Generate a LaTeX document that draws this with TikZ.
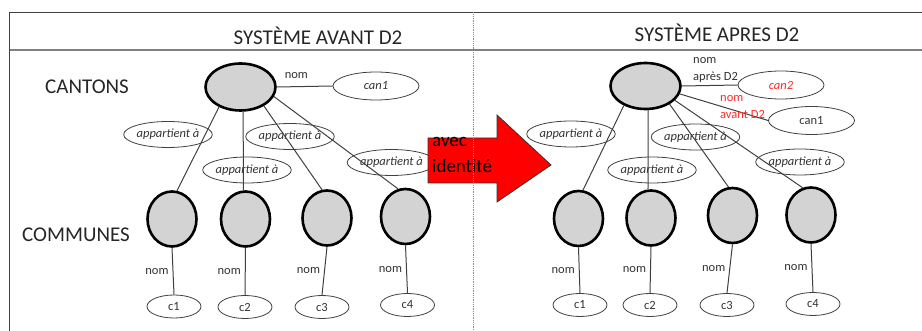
\documentclass[tikz,border=0pt]{standalone}
\usepackage{fontspec}
\setmainfont{Carlito}
\usetikzlibrary{shapes.geometric}
\definecolor{nodegray}{HTML}{D3D3D3}
\definecolor{txt}{HTML}{333333}
\definecolor{redtxt}{HTML}{FF2A2A}
\begin{document}
\begin{tikzpicture}[x=1pt,y=-1pt,
  entity/.style={ellipse, draw=black, line width=2.6pt, fill=nodegray, inner sep=0pt},
  cant/.style={entity, minimum width=70pt, minimum height=47pt},
  comm/.style={entity, minimum width=49pt, minimum height=55pt},
  rel/.style={ellipse, draw=black!75, line width=0.8pt, inner sep=0pt, minimum width=86pt, minimum height=26pt, font=\fontsize{12.5}{15}\selectfont\itshape, text=txt},
  val/.style={ellipse, draw=black!75, line width=0.8pt, inner sep=0pt, minimum width=86pt, minimum height=28pt, font=\fontsize{12.5}{15}\selectfont, text=txt},
  cval/.style={val, minimum width=54pt, minimum height=23pt},
  link/.style={draw=black!75, line width=1pt},
  lbl/.style={font=\fontsize{12.5}{17}\selectfont, text=txt, inner sep=0pt},
  heading/.style={font=\fontsize{21}{25}\selectfont, text=black!85, inner sep=0pt}]

\useasboundingbox (0,0) rectangle (922,331);

% frame
\draw[black!75, line width=1.2pt] (9.5,331) -- (9.5,12.5) -- (922,12.5);
\draw[black!50, line width=2pt] (9.5,50.5) -- (922,50.5);

% headings
\node[heading] (titleL) at (318,36) {SYSTÈME AVANT D2};
\node[heading] (titleR) at (717,32.5) {SYSTÈME APRES D2};
\node[heading, anchor=west] (cantons) at (45,87) {CANTONS};
\node[heading, anchor=west] (communes) at (22,234.5) {COMMUNES};

% ---------- left system ----------
\node[cant] (cantL) at (240.5,87) {};
\node[comm] (comL1) at (172,219) {};
\node[comm] (comL2) at (245.5,219) {};
\node[comm] (comL3) at (327,218) {};
\node[comm] (comL4) at (405.5,216.5) {};

\node[rel] (relL1) at (168,134.5) {appartient à};
\node[rel] (relL2) at (247,170) {appartient à};
\node[rel] (relL3) at (290,136.5) {appartient à};
\node[rel] (relL4) at (391.5,162.5) {appartient à};

\node[val] (can1L) at (376,86) {\itshape can1};

\node[cval] (cL1) at (174,306.5) {c1};
\node[cval] (cL2) at (245,307) {c2};
\node[cval] (cL3) at (322,307) {c3};
\node[cval] (cL4) at (407.5,305) {c4};

\draw[link] (cantL.east) -- node[lbl, pos=0.35, above=8pt] (nomL) {nom} (can1L.west);
\draw[link] (cantL.223) -- (comL1.80);
\draw[link] (cantL.276) -- (comL2.94);
\draw[link] (cantL.321) -- (comL3.100);
\draw[link] (cantL.344) -- (comL4.105);

\draw[link] (comL1.south) -- node[lbl, midway, left=4pt] (nL1) {nom} (cL1.north);
\draw[link] (comL2.south) -- node[lbl, midway, left=4pt] (nL2) {nom} (cL2.north);
\draw[link] (comL3.south) -- node[lbl, midway, left=4pt] (nL3) {nom} (cL3.north);
\draw[link] (comL4.south) -- node[lbl, midway, left=4pt] (nL4) {nom} (cL4.north);

% ---------- right system ----------
\node[cant, minimum height=46pt] (cantR) at (645.5,86) {};
\node[comm] (comR1) at (578.5,218.5) {};
\node[comm] (comR2) at (651,218) {};
\node[comm] (comR3) at (732.5,215.5) {};
\node[comm] (comR4) at (811,215) {};

\node[rel] (relR1) at (571,134) {appartient à};
\node[rel] (relR2) at (652,170) {appartient à};
\node[rel] (relR3) at (695.5,137) {appartient à};
\node[rel] (relR4) at (800,162) {appartient à};

\node[val] (can2R) at (781,85) {\itshape\color{redtxt}can2};
\node[val] (can1R) at (811.5,120.5) {can1};

\node[cval] (cR1) at (580,305) {c1};
\node[cval] (cR2) at (650,305) {c2};
\node[cval] (cR3) at (727,305) {c3};
\node[cval] (cR4) at (813,304) {c4};

\draw[link] (cantR.east) -- (can2R.west);
\draw[link] (cantR.347) -- (can1R.west);
\node[lbl, align=left, anchor=west] (nomapres) at (693,70) {nom\\après D2};
\node[lbl, align=left, anchor=west, text=redtxt] (nomavant) at (720,107) {nom\\avant D2};

\draw[link] (cantR.222) -- (comR1.81);
\draw[link] (cantR.276) -- (comR2.96);
\draw[link] (cantR.323) -- (comR3.98);
\draw[link] (cantR.334) -- (comR4.107);

\draw[link] (comR1.south) -- node[lbl, midway, left=4pt] (nR1) {nom} (cR1.north);
\draw[link] (comR2.south) -- node[lbl, midway, left=4pt] (nR2) {nom} (cR2.north);
\draw[link] (comR3.south) -- node[lbl, midway, left=4pt] (nR3) {nom} (cR3.north);
\draw[link] (comR4.south) -- node[lbl, midway, left=4pt] (nR4) {nom} (cR4.north);

% ---------- transition arrow ----------
\draw[fill=red, draw=black!80, line width=0.8pt]
  (428,138) -- (497,138) -- (497,115) -- (551,165) -- (497,202) -- (497,183) -- (428,183) -- cycle;
\node[font=\fontsize{19}{26}\selectfont, align=left, anchor=north west, inner sep=0pt] (arrowtxt) at (432,137.5) {avec\\identité};

% separator
\draw[black!45, densely dotted, line width=0.8pt] (473,12.5) -- (473,331);
\end{tikzpicture}
\end{document}
